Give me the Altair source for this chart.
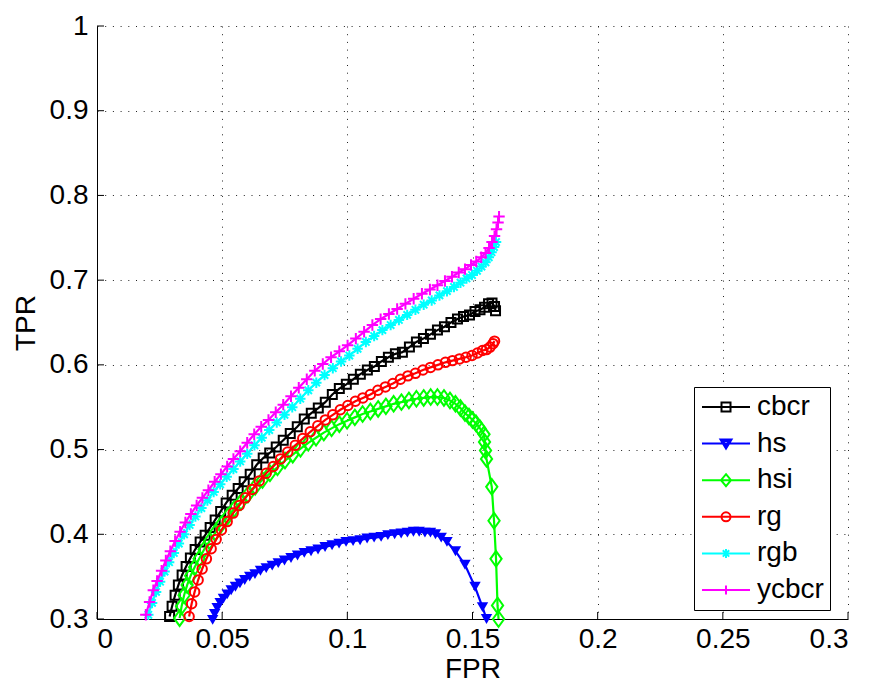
import altair as alt
import pandas as pd

SERIES = ["cbcr", "hs", "hsi", "rg", "rgb", "ycbcr"]
COLORS = ["#000000", "#0000ff", "#00ff00", "#ff0000", "#00ffff", "#ff00ff"]

XTICKS = [0, 0.05, 0.1, 0.15, 0.2, 0.25, 0.3]
YTICKS = [0.3, 0.4, 0.5, 0.6, 0.7, 0.8, 0.9, 1.0]

cbcr_fpr = [0.0290, 0.0300, 0.0312, 0.0325, 0.0340, 0.0356, 0.0373, 0.0392, 0.0412, 0.0432,
            0.0452, 0.0472, 0.0494, 0.0516, 0.0540, 0.0564, 0.0588, 0.0612, 0.0638, 0.0664,
            0.0690, 0.0716, 0.0744, 0.0772, 0.0800, 0.0828, 0.0856, 0.0884, 0.0912, 0.0940,
            0.0968, 0.0996, 0.1024, 0.1052, 0.1080, 0.1108, 0.1136, 0.1164, 0.1192, 0.1220,
            0.1248, 0.1276, 0.1304, 0.1332, 0.1360, 0.1388, 0.1414, 0.1440, 0.1464, 0.1488,
            0.1510, 0.1530, 0.1548, 0.1564, 0.1578, 0.1588, 0.1592]
cbcr_tpr = [0.303, 0.315, 0.328, 0.340, 0.352, 0.362, 0.372, 0.382, 0.391, 0.399,
            0.408, 0.417, 0.427, 0.437, 0.446, 0.454, 0.462, 0.471, 0.482, 0.490,
            0.496, 0.503, 0.511, 0.519, 0.527, 0.536, 0.543, 0.549, 0.556, 0.565,
            0.572, 0.577, 0.583, 0.589, 0.594, 0.598, 0.604, 0.609, 0.613, 0.615,
            0.621, 0.627, 0.631, 0.636, 0.641, 0.645, 0.650, 0.654, 0.657, 0.659,
            0.663, 0.665, 0.668, 0.672, 0.673, 0.669, 0.664]

hs_fpr = [0.0462, 0.0470, 0.0480, 0.0492, 0.0505, 0.0520, 0.0536, 0.0553, 0.0571, 0.0590,
          0.0610, 0.0631, 0.0653, 0.0676, 0.0700, 0.0724, 0.0749, 0.0775, 0.0801, 0.0828,
          0.0855, 0.0883, 0.0911, 0.0939, 0.0967, 0.0995, 0.1023, 0.1051, 0.1079, 0.1107,
          0.1135, 0.1162, 0.1189, 0.1215, 0.1240, 0.1264, 0.1287, 0.1310, 0.1332, 0.1352,
          0.1375, 0.1398, 0.1432, 0.1470, 0.1510, 0.1540, 0.1556]
hs_tpr = [0.299, 0.306, 0.313, 0.319, 0.324, 0.329, 0.334, 0.338, 0.342, 0.346,
          0.350, 0.353, 0.357, 0.360, 0.363, 0.366, 0.369, 0.372, 0.375, 0.378,
          0.380, 0.382, 0.385, 0.387, 0.389, 0.391, 0.392, 0.393, 0.395, 0.396,
          0.397, 0.399, 0.400, 0.401, 0.402, 0.403, 0.403, 0.402, 0.402, 0.400,
          0.396, 0.391, 0.380, 0.364, 0.338, 0.314, 0.300]

hsi_fpr = [0.0330, 0.0338, 0.0348, 0.0360, 0.0374, 0.0390, 0.0408, 0.0428, 0.0450, 0.0473,
           0.0497, 0.0522, 0.0548, 0.0575, 0.0603, 0.0632, 0.0661, 0.0691, 0.0721, 0.0751,
           0.0782, 0.0813, 0.0844, 0.0875, 0.0906, 0.0937, 0.0968, 0.0999, 0.1030, 0.1061,
           0.1092, 0.1123, 0.1154, 0.1185, 0.1216, 0.1246, 0.1276, 0.1305, 0.1333, 0.1360,
           0.1386, 0.1410, 0.1432, 0.1452, 0.1470, 0.1486, 0.1500, 0.1514, 0.1530, 0.1546,
           0.1548, 0.1552, 0.1556, 0.1577, 0.1586, 0.1594, 0.1600, 0.1604]
hsi_tpr = [0.301, 0.315, 0.328, 0.340, 0.351, 0.361, 0.371, 0.382, 0.392, 0.402,
           0.412, 0.421, 0.430, 0.438, 0.447, 0.456, 0.464, 0.472, 0.479, 0.487,
           0.494, 0.501, 0.508, 0.514, 0.520, 0.525, 0.530, 0.534, 0.538, 0.542,
           0.545, 0.548, 0.551, 0.554, 0.556, 0.558, 0.560, 0.561, 0.562, 0.562,
           0.561, 0.558, 0.554, 0.549, 0.543, 0.539, 0.535, 0.531, 0.525, 0.518,
           0.509, 0.499, 0.489, 0.456, 0.416, 0.371, 0.316, 0.300]

rg_fpr = [0.0368, 0.0378, 0.0390, 0.0404, 0.0420, 0.0437, 0.0456, 0.0476, 0.0497, 0.0520,
          0.0544, 0.0568, 0.0593, 0.0620, 0.0648, 0.0676, 0.0704, 0.0733, 0.0762, 0.0792,
          0.0822, 0.0852, 0.0882, 0.0912, 0.0942, 0.0972, 0.1002, 0.1032, 0.1062, 0.1092,
          0.1122, 0.1152, 0.1182, 0.1212, 0.1242, 0.1272, 0.1302, 0.1332, 0.1362, 0.1392,
          0.1420, 0.1448, 0.1474, 0.1498, 0.1520, 0.1540, 0.1556, 0.1570, 0.1582, 0.1588]
rg_tpr = [0.303, 0.318, 0.332, 0.346, 0.359, 0.371, 0.383, 0.394, 0.405, 0.415,
          0.425, 0.434, 0.443, 0.453, 0.463, 0.472, 0.480, 0.489, 0.497, 0.505,
          0.513, 0.521, 0.528, 0.535, 0.541, 0.547, 0.552, 0.557, 0.561, 0.565,
          0.570, 0.574, 0.578, 0.583, 0.587, 0.590, 0.594, 0.597, 0.600, 0.603,
          0.605, 0.607, 0.609, 0.611, 0.614, 0.617, 0.618, 0.621, 0.625, 0.628]

rgb_fpr = [0.0205, 0.0220, 0.0236, 0.0252, 0.0270, 0.0288, 0.0307, 0.0327, 0.0348, 0.0370,
           0.0393, 0.0417, 0.0441, 0.0466, 0.0492, 0.0518, 0.0545, 0.0572, 0.0600, 0.0629,
           0.0658, 0.0688, 0.0718, 0.0749, 0.0780, 0.0812, 0.0844, 0.0876, 0.0909, 0.0942,
           0.0975, 0.1008, 0.1041, 0.1074, 0.1107, 0.1140, 0.1173, 0.1206, 0.1239, 0.1272,
           0.1305, 0.1337, 0.1368, 0.1398, 0.1426, 0.1452, 0.1476, 0.1498, 0.1518, 0.1536,
           0.1552, 0.1565, 0.1576, 0.1586, 0.1594]
rgb_tpr = [0.305, 0.319, 0.332, 0.344, 0.356, 0.367, 0.378, 0.389, 0.400, 0.411,
           0.421, 0.431, 0.440, 0.450, 0.459, 0.468, 0.477, 0.486, 0.495, 0.505,
           0.514, 0.523, 0.532, 0.541, 0.550, 0.560, 0.570, 0.579, 0.588, 0.596,
           0.604, 0.611, 0.619, 0.627, 0.634, 0.641, 0.647, 0.653, 0.659, 0.665,
           0.671, 0.676, 0.682, 0.687, 0.692, 0.697, 0.702, 0.706, 0.711, 0.716,
           0.721, 0.727, 0.733, 0.739, 0.745]

ycbcr_fpr = [0.0195, 0.0210, 0.0225, 0.0240, 0.0258, 0.0275, 0.0293, 0.0312, 0.0332, 0.0353,
             0.0375, 0.0398, 0.0421, 0.0445, 0.0470, 0.0495, 0.0520, 0.0545, 0.0572, 0.0600,
             0.0628, 0.0656, 0.0685, 0.0714, 0.0744, 0.0775, 0.0806, 0.0838, 0.0870, 0.0902,
             0.0935, 0.0968, 0.1001, 0.1034, 0.1067, 0.1100, 0.1133, 0.1166, 0.1199, 0.1232,
             0.1265, 0.1298, 0.1330, 0.1360, 0.1390, 0.1418, 0.1445, 0.1470, 0.1494, 0.1515,
             0.1535, 0.1552, 0.1566, 0.1578, 0.1588, 0.1596, 0.1602, 0.1606]
ycbcr_tpr = [0.305, 0.320, 0.334, 0.345, 0.357, 0.369, 0.380, 0.392, 0.403, 0.414,
             0.424, 0.434, 0.443, 0.452, 0.462, 0.471, 0.480, 0.489, 0.498, 0.508,
             0.518, 0.527, 0.535, 0.544, 0.553, 0.563, 0.573, 0.583, 0.593, 0.601,
             0.609, 0.616, 0.623, 0.631, 0.639, 0.647, 0.654, 0.660, 0.666, 0.672,
             0.678, 0.684, 0.689, 0.694, 0.699, 0.704, 0.709, 0.713, 0.718, 0.722,
             0.727, 0.732, 0.738, 0.745, 0.752, 0.760, 0.768, 0.775]

CURVES = {
    "cbcr": (cbcr_fpr, cbcr_tpr),
    "hs": (hs_fpr, hs_tpr),
    "hsi": (hsi_fpr, hsi_tpr),
    "rg": (rg_fpr, rg_tpr),
    "rgb": (rgb_fpr, rgb_tpr),
    "ycbcr": (ycbcr_fpr, ycbcr_tpr),
}

rows = []
for name, (fx, fy) in CURVES.items():
    for i, (a, b) in enumerate(zip(fx, fy)):
        rows.append({"series": name, "fpr": a, "tpr": b, "i": i})
df = pd.DataFrame(rows)

FONT = "Liberation Sans"
FS = 28
W, H = 751, 593

xs = alt.Scale(domain=[0, 0.3], nice=False, zero=False)
ys = alt.Scale(domain=[0.3, 1.0], nice=False, zero=False)
xaxis = alt.Axis(values=XTICKS, format="~g", title="FPR", grid=True, tickSize=0,
                 labelPadding=6, titleY=58, titleBaseline="alphabetic")
yaxis = alt.Axis(values=YTICKS, format="~g", title="TPR", grid=True, tickSize=0,
                 labelPadding=9, titleX=-63, titleY=H / 2, titleAngle=-90,
                 titleAlign="center", titleBaseline="alphabetic")


def X():
    return alt.X("fpr:Q", scale=xs, axis=xaxis)


def Y():
    return alt.Y("tpr:Q", scale=ys, axis=yaxis)


# marker shapes for the plot
PLUS = "M-1,0H1M0,-1V1"
STAR = "M-1,0H1M0,-1V1M-0.7,-0.7L0.7,0.7M-0.7,0.7L0.7,-0.7"
DIAM = "M0,-1.45L1.05,0L0,1.45L-1.05,0Z"
MARK = {
    "cbcr": dict(shape="square", filled=False, size=81),
    "hs": dict(shape="triangle-down", filled=True, size=130),
    "hsi": dict(shape=DIAM, filled=False, size=115),
    "rg": dict(shape="circle", filled=False, size=90),
    "rgb": dict(shape=STAR, filled=False, size=110),
    "ycbcr": dict(shape=PLUS, filled=False, size=130),
}

# legend symbols: line with marker (unit = 10 px)
L = "M-1.2,0H3.6"
LEG_SHAPES = [
    L + "M0.75,-0.45H1.65V0.45H0.75Z",
    L + "M0.65,-0.4H1.75L1.2,0.5ZM0.9,-0.25H1.5L1.2,0.25Z",
    L + "M1.2,-0.6L1.7,0L1.2,0.6L0.7,0Z",
    L + "M1.65,0A0.45,0.45 0 1,1 0.75,0A0.45,0.45 0 1,1 1.65,0Z",
    L + "M1.2,-0.45V0.45M0.88,-0.32L1.52,0.32M0.88,0.32L1.52,-0.32",
    L + "M1.2,-0.45V0.45",
]

base = alt.Chart(df)
layers = []
for name, col in zip(SERIES, COLORS):
    sub = base.transform_filter(alt.datum.series == name)
    layers.append(
        sub.mark_line(color=col, strokeWidth=2.2).encode(x=X(), y=Y(), order="i:Q")
    )
    m = MARK[name]
    layers.append(
        sub.mark_point(shape=m["shape"], filled=m["filled"], size=m["size"],
                       color=col, strokeWidth=2, opacity=1).encode(x=X(), y=Y())
    )

# inward ticks
xt = alt.Chart(pd.DataFrame({"fpr": XTICKS})).mark_rule(color="black", strokeWidth=1).encode(
    x=X(), y=alt.value(H), y2=alt.value(H - 7))
yt = alt.Chart(pd.DataFrame({"tpr": YTICKS})).mark_rule(color="black", strokeWidth=1).encode(
    y=Y(), x=alt.value(0), x2=alt.value(7))

legend = alt.Legend(
    orient="none", legendX=597, legendY=361, title=None,
    padding=6, rowPadding=8.6, labelOffset=29,
    labelFont=FONT, labelFontSize=FS, labelColor="black",
    labelExpr="datum.label + '  '",
    strokeColor="black", fillColor="white",
    symbolSize=400, symbolStrokeWidth=2, symbolOpacity=1,
)
leg_layer = alt.Chart(pd.DataFrame({"series": SERIES})).mark_point(
    opacity=0, size=400, filled=False, strokeWidth=2).encode(
    color=alt.Color("series:N", scale=alt.Scale(domain=SERIES, range=COLORS), legend=legend),
    shape=alt.Shape("series:N", scale=alt.Scale(domain=SERIES, range=LEG_SHAPES), legend=legend),
)

chart = alt.layer(*layers, xt, yt, leg_layer).properties(
    width=W, height=H,
    autosize=alt.AutoSizeParams(type="none"),
    padding={"left": 97, "top": 26, "right": 24, "bottom": 65},
    background="white",
).configure_view(stroke=None).configure_axis(
    domainColor="black", domainWidth=1,
    labelFont=FONT, labelFontSize=FS, labelColor="black",
    titleFont=FONT, titleFontSize=FS, titleColor="black", titleFontWeight="normal",
    gridColor="#222222", gridWidth=1, gridDash=[1, 6.7], gridOpacity=1,
)

chart.save("out.html", embed_options={"renderer": "svg", "actions": False})
